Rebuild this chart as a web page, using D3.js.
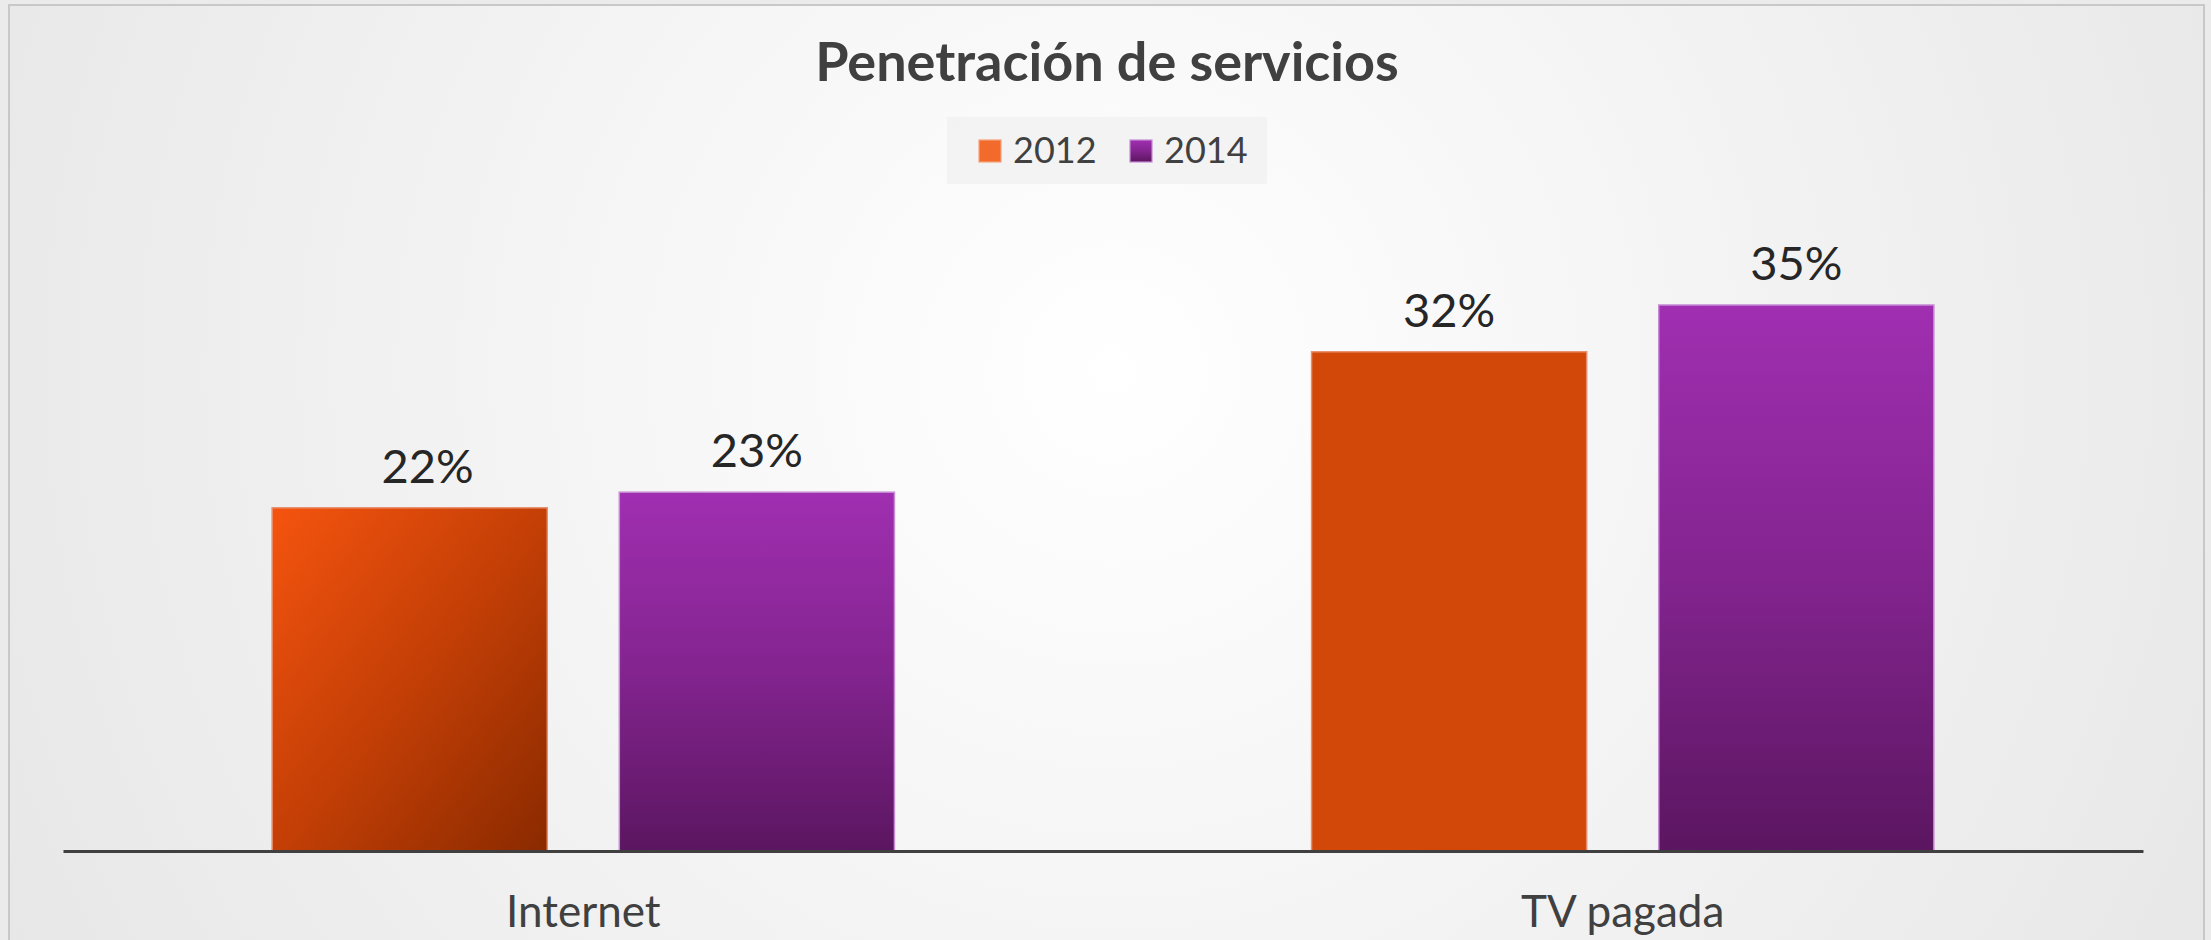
<!DOCTYPE html>
<html>
<head>
<meta charset="utf-8">
<script src="https://cdn.jsdelivr.net/npm/d3@7"></script>
<style>
  html, body { margin: 0; padding: 0; background: #ebebeb; }
  svg { display: block; }
</style>
</head>
<body>
<script>
// ---- data ----
const title = "Penetración de servicios";
const categories = ["Internet", "TV pagada"];
const seriesNames = ["2012", "2014"];
const values2012 = [0.22, 0.32];
const values2014 = [0.23, 0.35];
const valueLabels2012 = ["22%", "32%"];
const valueLabels2014 = ["23%", "35%"];

const W = 2211, H = 940;
const FONT = "Lato, 'Open Sans', sans-serif";

const svg = d3.select("body").append("svg").attr("width", W).attr("height", H);
const defs = svg.append("defs");

// background glow
const bg = defs.append("radialGradient").attr("id", "bgGlow")
  .attr("gradientUnits", "userSpaceOnUse")
  .attr("cx", 1114).attr("cy", 370).attr("r", 1250);
bg.append("stop").attr("offset", "0").attr("stop-color", "#ffffff");
bg.append("stop").attr("offset", "0.35").attr("stop-color", "#f7f7f7");
bg.append("stop").attr("offset", "1").attr("stop-color", "#e7e7e7");

// orange diagonal gradient
const og = defs.append("linearGradient").attr("id", "orangeDiag")
  .attr("x1", 0).attr("y1", 0).attr("x2", 1).attr("y2", 1);
og.append("stop").attr("offset", "0").attr("stop-color", "#f5540f");
og.append("stop").attr("offset", "0.5").attr("stop-color", "#c43f06");
og.append("stop").attr("offset", "1").attr("stop-color", "#8a2a00");

// purple vertical gradient
const pg = defs.append("linearGradient").attr("id", "purpleVert")
  .attr("x1", 0).attr("y1", 0).attr("x2", 0).attr("y2", 1);
pg.append("stop").attr("offset", "0").attr("stop-color", "#a02fb1");
pg.append("stop").attr("offset", "0.5").attr("stop-color", "#83248f");
pg.append("stop").attr("offset", "1").attr("stop-color", "#5b1660");

// chart frame
svg.append("rect").attr("x", 9).attr("y", 5).attr("width", 2195).attr("height", 960)
  .attr("fill", "url(#bgGlow)").attr("stroke", "#c8c8c8").attr("stroke-width", 2);

// title
svg.append("text").attr("x", 1107).attr("y", 81).attr("text-anchor", "middle")
  .attr("font-family", FONT).attr("font-weight", 700).attr("font-size", 54)
  .attr("fill", "#404040").text(title);

// scales
const x0 = d3.scaleBand().domain(categories).range([63, 2143])
  .paddingInner(0.4013).paddingOuter(0.2012);
const x1 = d3.scaleBand().domain(seriesNames).range([0, x0.bandwidth()]).paddingInner(0.2075);
const y = d3.scaleLinear().domain([0, 0.40]).range([851, 227]);

const rows = [];
categories.forEach((c, i) => {
  rows.push({cat: c, ser: "2012", v: values2012[i], label: valueLabels2012[i]});
  rows.push({cat: c, ser: "2014", v: values2014[i], label: valueLabels2014[i]});
});

function fillFor(d) {
  if (d.ser === "2014") return "url(#purpleVert)";
  return d.cat === "Internet" ? "url(#orangeDiag)" : "#d14808";
}
function strokeFor(d) { return d.ser === "2014" ? "#c58bd3" : "#e98e6c"; }
// the first label sits slightly right of its bar centre in the original
function labelShift(d) { return (d.cat === "Internet" && d.ser === "2012") ? 18 : 0; }

svg.append("g").selectAll("rect").data(rows).join("rect")
  .attr("x", d => x0(d.cat) + x1(d.ser))
  .attr("y", d => y(d.v))
  .attr("width", x1.bandwidth())
  .attr("height", d => y(0) - y(d.v))
  .attr("fill", fillFor)
  .attr("stroke", strokeFor).attr("stroke-width", 1.5);

// value labels
svg.append("g").selectAll("text").data(rows).join("text")
  .attr("x", d => x0(d.cat) + x1(d.ser) + x1.bandwidth() / 2 + labelShift(d))
  .attr("y", d => y(d.v) - 25)
  .attr("text-anchor", "middle")
  .attr("font-family", FONT).attr("font-size", 47)
  .attr("fill", "#262626")
  .text(d => d.label);

// category axis
const ax = svg.append("g").attr("transform", `translate(0,${y(0)})`)
  .call(d3.axisBottom(x0).tickSize(0).tickSizeOuter(0));
ax.select(".domain").attr("stroke", "#404040").attr("stroke-width", 3);
ax.selectAll(".tick text")
  .attr("y", 76).attr("dy", 0)
  .attr("font-family", FONT).attr("font-size", 44)
  .attr("fill", "#404040");

// legend
const lg = svg.append("g");
lg.append("rect").attr("x", 947).attr("y", 117).attr("width", 320).attr("height", 67)
  .attr("fill", "#f1f1f1").attr("opacity", 0.85);
const legendItems = [
  {name: seriesNames[0], sx: 979, tx: 1013, fill: "#f26a2c", stroke: "#f6a27c"},
  {name: seriesNames[1], sx: 1130, tx: 1164, fill: "url(#purpleVert)", stroke: "#c58bd3"}
];
lg.selectAll("rect.sw").data(legendItems).join("rect").attr("class", "sw")
  .attr("x", d => d.sx).attr("y", 140).attr("width", 22).attr("height", 22)
  .attr("fill", d => d.fill).attr("stroke", d => d.stroke).attr("stroke-width", 1.2);
lg.selectAll("text").data(legendItems).join("text")
  .attr("x", d => d.tx).attr("y", 163)
  .attr("font-family", FONT).attr("font-size", 36)
  .attr("fill", "#404040").text(d => d.name);
</script>
</body>
</html>
